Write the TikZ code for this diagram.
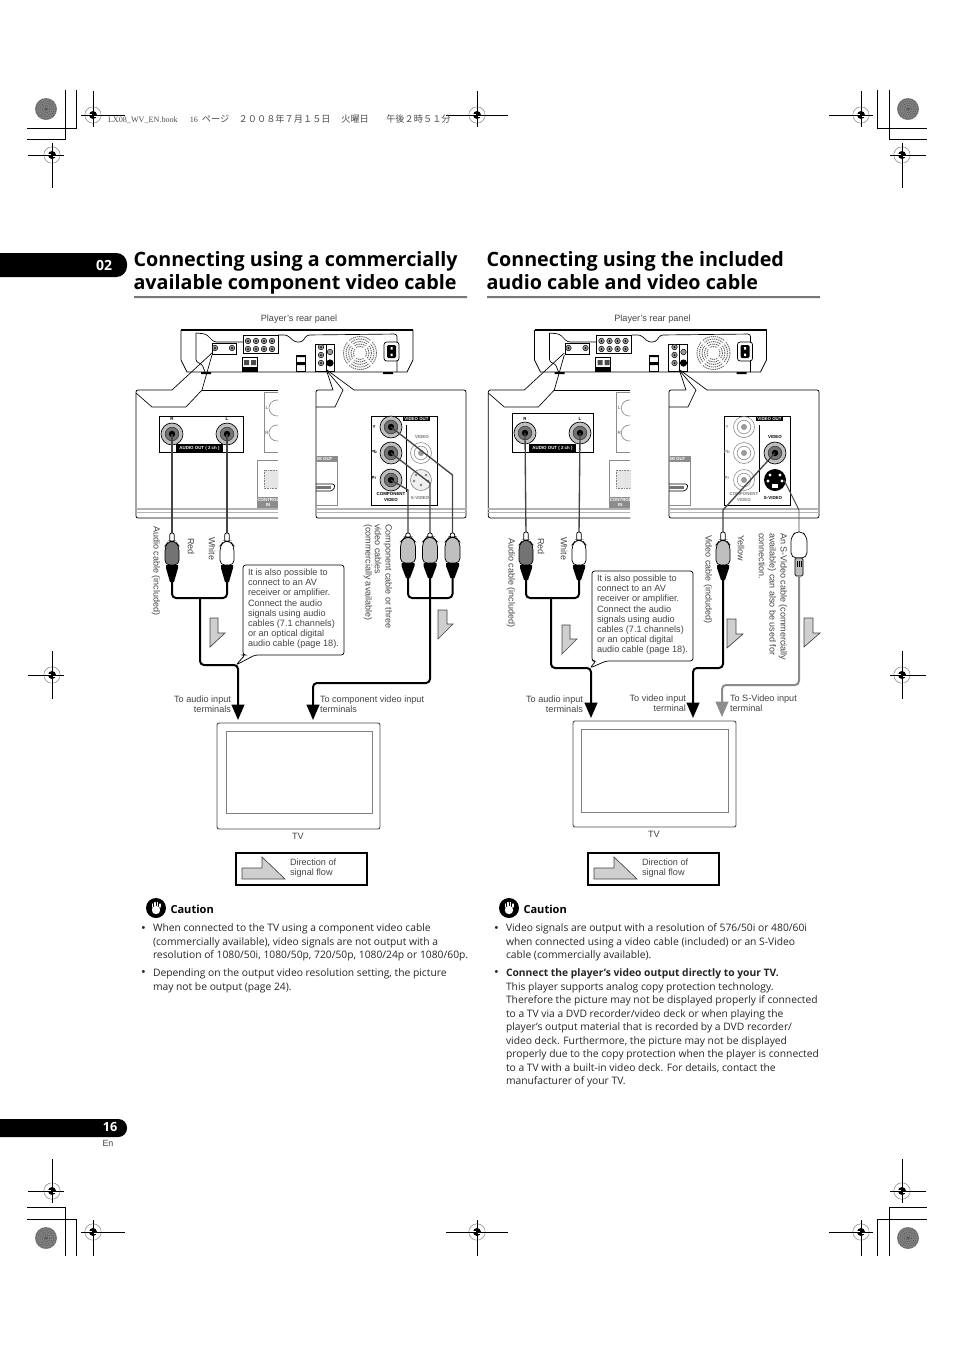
\documentclass[tikz,border=0pt]{standalone}
\usepackage{fontspec}
\usetikzlibrary{arrows.meta}
\setmainfont{Liberation Sans}
\newfontfamily\bodyf{Open Sans}
\newfontfamily\cjkf{Noto Sans CJK JP}
\newfontfamily\serf{Liberation Serif}
\definecolor{lab}{HTML}{444444}
\definecolor{flow}{HTML}{CFCFCF}
\definecolor{rule}{HTML}{777777}
\tikzset{
  txt/.style={inner sep=0pt,outer sep=0pt},
  lbl/.style={txt,text=lab,font=\fontsize{6.85pt}{7.6pt}\selectfont,align=left},
  lblr/.style={txt,text=lab,font=\fontsize{6.85pt}{7.6pt}\selectfont,align=right},
  vlbl/.style={txt,text=lab,rotate=-90,anchor=west,font=\fontsize{6.75pt}{7.6pt}\selectfont},
  body/.style={txt,anchor=north west,align=left,text=black!85,font=\bodyf\fontsize{7.72pt}{10.1pt}\selectfont},
  bull/.style={txt,anchor=center,text=black!85,font=\fontsize{8pt}{10pt}\selectfont},
  ttl/.style={txt,anchor=north west,align=left,font=\bodyf\bfseries\fontsize{14.8pt}{17.25pt}\selectfont},
  tiny/.style={txt,font=\bfseries\fontsize{3.3pt}{4.2pt}\selectfont,align=center},
  cable/.style={draw=black,line width=1.5pt,rounded corners=3pt},
  thinc/.style={draw=lab,line width=1pt},
  flowarr/.style={draw=lab,fill=flow,line width=.5pt},
  tip/.style={-{Triangle[length=11.5pt,width=9.5pt]}},
  panelline/.style={draw=black,line width=.55pt,rounded corners=1.5pt},
  grayline/.style={draw=black!45,line width=.5pt},
  cb/.style={draw=black,line width=.8pt},
}
\newcommand\regmark[6]{%
  \draw[black!50,line width=.35pt] (#1,#2) circle (8.2);
  \fill[black] (#1,#2) circle (4);
  \draw[black,line width=.65pt] (#3,#2) -- (#4,#2) (#1,#5) -- (#1,#6);
  \draw[white,line width=.3pt] (#1-4,#2-.9) -- (#1-1,#2-.9) (#1+1,#2+.9) -- (#1+4,#2+.9);
}
\newcommand\wheel[2]{%
  \fill[black!50] (#1,#2) circle (11);
  \foreach \r in {2,4,...,10}{\draw[black!70,line width=.3pt,dash pattern=on .8pt off .8pt] (#1,#2) circle (\r);}
  \fill[black!65] (#1,#2) circle (1.5);
}
\newcommand\jackon[2]{%
  \filldraw[fill=black!25,draw=black,line width=.5pt] (#1,#2) circle (11);
  \filldraw[fill=black!55,draw=black!80,line width=.4pt] (#1,#2) circle (6.8);
  \fill[black] (#1,#2) circle (3.2);
}
\newcommand\jackoff[2]{%
  \draw[black!45,line width=.45pt] (#1,#2) circle (10.5);
  \draw[black!45,line width=.45pt] (#1,#2) circle (6.8);
  \fill[black!40] (#1,#2) circle (3);
}
\newcommand\plug[7]{%
  \filldraw[fill=white,draw=black,line width=.55pt,rounded corners=1.5pt] (#1-2.3,#5+1) -- (#1-2.3,#2) -- (#1+2.3,#2) -- (#1+2.3,#5+1) -- cycle;
  \filldraw[fill=#3,draw=black,line width=.55pt,rounded corners=3.5pt] (#1-#4,#6) -- (#1-#4,#5+5) -- (#1-3,#5) -- (#1+3,#5) -- (#1+#4,#5+5) -- (#1+#4,#6) -- cycle;
  \fill[black] (#1-#4+1,#6) -- (#1+#4-1,#6) -- (#1+#4-1,#6+3) -- (#1+2,#7) -- (#1-2,#7) -- (#1-#4+1,#6+3) -- cycle;
}
\newcommand\rear[2]{%
\begin{scope}[shift={(#1,0)}]
  \draw[black,line width=.55pt] (181,330) -- (181,360) -- (187,372) -- (407,372) -- (413,360) -- (413,330);
  \draw[black,line width=1.3pt] (181,330) -- (413,330);
  \draw[black,line width=.5pt,rounded corners=2pt] (196,333) -- (196,362) -- (202,364) -- (205,372);
  \draw[black,line width=.5pt,rounded corners=2pt] (196,333) -- (206,334) -- (214,342) -- (243,342);
  \draw[black,line width=.5pt,rounded corners=2pt] (278,335) -- (287,335) -- (295,342) -- (302,342) -- (307,335) -- (397,334) -- (397,372);
  \fill[black] (201,372) rectangle (211,374) (383,372) rectangle (393,374);
  \draw[black,line width=.7pt,fill=white] (212,343) rectangle (236,354);
  \draw[black,line width=.7pt,fill=white] (243,335) rectangle (278,353);
  \foreach \jx in {215,232}{\filldraw[fill=black!40,draw=black,line width=.35pt] (\jx,348) circle (2.8); \fill[black] (\jx,348) circle (1);}
  \foreach \jx in {248,256,264,272}{\foreach \jy in {341,349}{\filldraw[fill=black!40,draw=black,line width=.35pt] (\jx,\jy) circle (2.8); \fill[black] (\jx,\jy) circle (1);}}
  \filldraw[fill=white,draw=black,line width=.7pt] (242,357) rectangle (257,371);
  \fill[black] (242,367) rectangle (257,371);
  \fill[black!70] (244,360) rectangle (249,365) (251,360) rectangle (256,365);
  \draw[black,line width=.7pt,fill=white] (296,355) rectangle (305,371);
  \fill[black] (296,355) rectangle (305,357) (296,362) rectangle (305,365);
  \draw[black,line width=.7pt,fill=white] (315,344) rectangle (326,371);
  \draw[black,line width=.7pt,fill=white] (326,344) rectangle (334,371);
  \foreach \jy in {347,355,363}{\filldraw[fill=black!40,draw=black,line width=.35pt] (321,\jy) circle (2.8); \fill[black] (321,\jy) circle (1);}
  \filldraw[fill=black!40,draw=black,line width=.35pt] (330,352) circle (2.8);
  \fill[black] (330,363) circle (3.6);
  \foreach \r in {6.5,9,11.5,14,16.5}{\draw[black!60,line width=.7pt,dash pattern=on 1pt off .6pt] (360,353) circle (\r);}
  \foreach \a in {45,135,225,315}{\draw[white,line width=1.4pt] (360,353) -- ++(\a:18);}
  \filldraw[fill=white,draw=black,line width=.55pt,rounded corners=2pt] (384,342) rectangle (399,361);
  \fill[black,rounded corners=1pt] (387,345) rectangle (396,358);
  \fill[white] (390.5,347) rectangle (392.5,349.5) (390.5,353.5) rectangle (392.5,356);
  \node[lbl] (#2rear) at (299,319) {Player’s rear panel};
\end{scope}}
\newcommand\lpanel[2]{%
\begin{scope}[shift={(#1,0)}]
  \draw[panelline] (172,390) -- (136,390) -- (136,518) -- (278,518);
  \draw[panelline] (202,390) -- (278,390);
  \draw[black,line width=.5pt] (136,393) -- (152,407) -- (186,407) -- (202,390) -- (212,355);
  \draw[black,line width=.5pt] (172,390) -- (212,353);
  \draw[black!30,line width=.8pt] (136,509) -- (278,509);
  \draw[black!30,line width=.5pt] (136,512) -- (278,512);
  \begin{scope}
    \clip (136,385) rectangle (278,520);
    \draw[grayline] (278,392) -- (264,392) -- (264,452) -- (278,452);
    \draw[grayline] (277,408) circle (8) (277,433) circle (8);
    \draw[grayline] (278,460) -- (257,460) -- (257,508);
    \fill[black!10] (264,470) rectangle (278,488);
    \draw[black!50,line width=.5pt,dash pattern=on .6pt off .6pt] (264,470) rectangle (278,488);
    \fill[black!45] (257,497) rectangle (278,508);
    \node[txt,text=white,font=\bfseries\fontsize{3.3pt}{4pt}\selectfont,anchor=west] (#2ctl) at (257.5,500) {CONTROL};
    \node[txt,text=white,font=\bfseries\fontsize{3.3pt}{4pt}\selectfont] (#2in) at (268,505) {IN};
  \end{scope}
  \node[txt,text=lab,font=\fontsize{3.4pt}{4pt}\selectfont] (#2l) at (267,408) {L};
  \node[txt,text=lab,font=\fontsize{3.4pt}{4pt}\selectfont] (#2r) at (267,433) {R};
\end{scope}}
\newcommand\rpanel[2]{%
\begin{scope}[shift={(#1,0)}]
  \draw[panelline] (333,390) -- (316,390) -- (316,518) -- (466,518) -- (466,390) -- (354,390);
  \draw[black,line width=.5pt] (316,407) -- (335,407) -- (343,390) -- (327,371);
  \draw[black,line width=.5pt] (333,390) -- (327,372);
  \draw[black,line width=.5pt] (354,390) -- (327,370);
  \draw[black!30,line width=.8pt] (316,509) -- (466,509);
  \draw[black!30,line width=.5pt] (316,512) -- (466,512);
  \draw[grayline] (316,456) -- (337,456) -- (337,505) -- (316,505);
  \fill[black!45] (316,456) rectangle (337,462);
  \node[txt,text=white,font=\bfseries\fontsize{3.3pt}{4pt}\selectfont,anchor=west] (#2hd) at (317,459) {MI OUT};
  \draw[black,line width=.5pt,rounded corners=1pt] (316,484) -- (334,484) -- (335,487) -- (332,491) -- (316,491);
  \fill[black!55] (316,486) rectangle (331,489);
  \draw[black,line width=.7pt] (371,416) rectangle (437,505);
  \fill[black] (403,416) rectangle (430,421);
  \node[txt,text=white,font=\bfseries\fontsize{3.3pt}{4pt}\selectfont] (#2vo) at (416.5,418.5) {VIDEO OUT};
\end{scope}}
\begin{document}
\begin{tikzpicture}[x=.75pt,y=-.75pt]
\useasboundingbox (0,0) rectangle (954,1347);
\fill[white] (0,0) rectangle (954,1347);
\draw[black,line width=.6pt] (65,90) -- (65,139) -- (27,139) (76,90) -- (76,128) -- (27,128);
\draw[black,line width=.6pt] (877,90) -- (877,128) -- (927,128) (889,90) -- (889,139) -- (927,139);
\draw[black,line width=.6pt] (65,1256) -- (65,1207) -- (27,1207) (76,1256) -- (76,1219) -- (27,1219);
\draw[black,line width=.6pt] (877,1256) -- (877,1219) -- (927,1219) (889,1256) -- (889,1207) -- (927,1207);
\wheel{46}{109}\wheel{908}{109}\wheel{46}{1238}\wheel{908}{1238}
\regmark{93}{115}{81}{125}{91}{127}
\regmark{477}{115}{446}{508}{91}{127}
\regmark{861}{115}{829}{873}{91}{127}
\regmark{52}{155}{28}{64}{143}{188}
\regmark{902}{155}{890}{926}{143}{188}
\regmark{52}{675}{28}{64}{651}{699}
\regmark{902}{675}{890}{926}{651}{699}
\regmark{52}{1191}{28}{64}{1159}{1203}
\regmark{902}{1191}{890}{926}{1159}{1203}
\regmark{93}{1232}{81}{125}{1220}{1256}
\regmark{477}{1232}{446}{508}{1220}{1256}
\regmark{861}{1232}{829}{873}{1220}{1256}
\node[txt,anchor=west,text=black!70,font=\fontsize{6.1pt}{7pt}\selectfont] (hdr) at (108,119) {{\serf LX08\_WV\_EN.book}\hspace{9pt}{\serf 16}\hspace{3pt}{\cjkf\fontsize{6.9pt}{7pt}\selectfont ページ}\hspace{7pt}{\cjkf\fontsize{6.9pt}{7pt}\selectfont ２００８年７月１５日}\hspace{8pt}{\cjkf\fontsize{6.9pt}{7pt}\selectfont 火曜日}\hspace{13pt}{\cjkf\fontsize{6.9pt}{7pt}\selectfont 午後２時５１分}};
\fill[black,rounded corners=8pt] (-20,253) rectangle (127,277);
\fill[black,rounded corners=6.5pt] (-20,1119) rectangle (127,1137);
\node[txt,text=white,font=\bodyf\bfseries\fontsize{10.5pt}{11pt}\selectfont] (tab02) at (104,265) {02};
\node[txt,text=white,font=\bodyf\bfseries\fontsize{9.5pt}{10pt}\selectfont] (tab16) at (110,1127) {16};
\node[txt,text=lab,font=\fontsize{6.7pt}{7pt}\selectfont] (en) at (108,1143) {En};
\node[ttl] (t1) at (133.5,251.5) {Connecting using a commercially\\available component video cable};
\node[ttl] (t2) at (486.5,251.5) {Connecting using the included\\audio cable and video cable};
\fill[rule] (134,296) rectangle (467,298) (487,296) rectangle (820,298);
% LEFT
\rear{0}{a}
\lpanel{0}{a}
\rpanel{0}{b}
\draw[black,line width=.7pt] (159,416) rectangle (243,452);
\fill[black] (176,444) rectangle (223,452);
\node[tiny,text=white] (aout) at (199.5,448) {AUDIO OUT ( 2 ch )};
\node[tiny] (aR) at (172,418.5) {R};
\node[tiny] (aL) at (227,418.5) {L};
\jackon{172}{434}\jackon{227}{434}
\coordinate (aRj) at (172,434); \coordinate (aLj) at (227,434);
\coordinate (aRp) at (172,535); \coordinate (aLp) at (227,535);
\draw[thinc] (aRj) -- (aRp); \draw[thinc] (aLj) -- (aLp);
\plug{172}{533}{black!55}{7}{541}{565}{582}
\plug{227}{533}{white}{7}{541}{565}{582}
\jackon{391}{427}\jackon{391}{453}\jackon{391}{480}
\jackoff{421}{453}
\draw[black!45,line width=.5pt,fill=black!6] (421,480) circle (10.5);
\foreach \p in {(416,475),(426,475),(414,481),(428,481),(421,485)}{\fill[black!50] \p circle (1.4);}
\draw[black,line width=.5pt] (406,425) -- (406,492);
\node[tiny] (cY) at (374,427) {Y};
\node[tiny] (cB) at (374,452) {P\textsc{b}};
\node[tiny] (cR) at (374,478) {P\textsc{r}};
\node[tiny] (cC) at (391,497) {COMPONENT\\VIDEO};
\node[tiny,text=black!55] (cV) at (422,437) {VIDEO};
\node[tiny,text=black!55] (cS) at (420,498) {S-VIDEO};
\coordinate (cYj) at (391,427); \coordinate (cBj) at (391,453); \coordinate (cRj) at (391,480);
\coordinate (cYb) at (452.5,475); \coordinate (cBb) at (430,483); \coordinate (cRb) at (408,490);
\coordinate (cYp) at (452.5,535); \coordinate (cBp) at (430,535); \coordinate (cRp) at (408,535);
\draw[thinc] (cYj) -- (cYb) -- (cYp); \draw[thinc] (cBj) -- (cBb) -- (cBp); \draw[thinc] (cRj) -- (cRb) -- (cRp);
\plug{408}{533}{black!25}{7.5}{537}{563}{578}
\plug{430}{533}{black!25}{7.5}{537}{563}{578}
\plug{452.5}{533}{black!25}{7.5}{537}{563}{578}
\coordinate (aRc) at (172,582); \coordinate (aLc) at (227,582);
\coordinate (aT1) at (200,598); \coordinate (aE) at (238,720);
\draw[cable] (aRc) -- (172,598) -- (227,598) -- (aLc);
\draw[cable,tip] (aT1) -- (200,665) -- (238,665) -- (aE);
\coordinate (cRc) at (408,578); \coordinate (cYc) at (452.5,578); \coordinate (cBc) at (430,578); \coordinate (cE) at (313,720);
\draw[cable] (cRc) -- (408,598) -- (452.5,598) -- (cYc);
\draw[cable,tip] (cBc) -- (430,683) -- (313,683) -- (cE);
\draw[flowarr] (210,618) -- (218,618) -- (218,633) -- (225,633) -- (210,647) -- cycle;
\draw[flowarr] (438,610) -- (447,610) -- (447,624) -- (453,624) -- (438,639) -- cycle;
\node[vlbl] (v1) at (156,526) {Audio cable (included)};
\node[vlbl] (v2) at (191,538) {Red};
\node[vlbl] (v3) at (212,537) {White};
\node[vlbl] (v4) at (388,524) {Component cable or three};
\node[vlbl] (v5) at (378,524) {video cables};
\node[vlbl] (v6) at (368,524) {(commercially available)};
\draw[draw=black,fill=white,line width=.55pt,rounded corners=2pt] (243,565) -- (344,565) -- (344,655) -- (255,655) -- (236,665) -- (245,655) -- (243,655) -- cycle;
\node[lbl,anchor=north west] (c1) at (248,569) {It is also possible to\\connect to an AV\\receiver or amplifier.\\Connect the audio\\signals using audio\\cables (7.1 channels)\\or an optical digital\\audio cable (page 18).};
\node[lblr,anchor=north east] (l1) at (231,695.5) {To audio input\\terminals};
\node[lbl,anchor=north west] (l2) at (320,695.5) {To component video input\\terminals};
\draw[black!70,line width=.7pt,rounded corners=1.5pt] (217,723) rectangle (380,829);
\draw[black!50,line width=.5pt] (226,731) rectangle (372,813);
\node[lbl] (tv1) at (298,836) {TV};
\draw[cb] (236,853) rectangle (367,885);
\draw[flowarr] (242,868) -- (262,868) -- (262,857) -- (285,879) -- (242,879) -- cycle;
\node[lbl,anchor=north west] (d1) at (290,858.5) {Direction of\\signal flow};
\fill[black] (156,908) circle (10);
\draw[white,line width=1pt,line cap=round] (152.5,907) -- (152.5,904) (155,906) -- (155,902.5) (157.5,906) -- (157.5,902.5) (160,907) -- (160,904);
\fill[white] (156,910) circle (4.2);
\node[txt,anchor=west,font=\bodyf\bfseries\fontsize{8.3pt}{10pt}\selectfont] (cau1) at (170.5,909) {Caution};
\node[bull] (b1) at (143.5,928.5) {•};
\node[body] (p1) at (153,924) {When connected to the TV using a component video cable\\(commercially available), video signals are not output with a\\resolution of 1080/50i, 1080/50p, 720/50p, 1080/24p or 1080/60p.};
\node[bull] (b2) at (143.5,973) {•};
\node[body] (p2) at (153,969) {Depending on the output video resolution setting, the picture\\may not be output (page 24).};
% RIGHT
\rear{353.5}{c}
\lpanel{352.3}{c}
\rpanel{353}{d}
\draw[black,line width=.7pt] (512,413) rectangle (593,452);
\fill[black] (529,444) rectangle (576,452);
\node[tiny,text=white] (xout) at (552.5,448) {AUDIO OUT ( 2 ch )};
\node[tiny] (xR) at (525,418.5) {R};
\node[tiny] (xL) at (580,418.5) {L};
\jackon{525}{433}\jackon{580}{433}
\coordinate (xRj) at (525,433); \coordinate (xLj) at (580,433);
\coordinate (xRp) at (526,535); \coordinate (xLp) at (579,535);
\draw[thinc] (xRj) -- (xRp); \draw[thinc] (xLj) -- (xLp);
\plug{526}{532}{black!55}{7}{540}{565}{580}
\plug{579}{532}{white}{7}{540}{565}{580}
\jackoff{744}{427}\jackoff{744}{453}\jackoff{744}{480}
\jackon{775}{453}
\fill[black] (775,480) circle (11);
\foreach \p in {(770,475),(780,475),(768,481),(782,481)}{\fill[white] \p circle (1.6);}
\fill[white] (772,484) rectangle (778,488);
\draw[black,line width=.5pt] (759.5,425) -- (759.5,492);
\node[tiny,text=black!50] (yY) at (727,427) {Y};
\node[tiny,text=black!50] (yB) at (727,452) {P\textsc{b}};
\node[tiny,text=black!50] (yR) at (727,478) {P\textsc{r}};
\node[tiny,text=black!50] (yC) at (744,497) {COMPONENT\\VIDEO};
\node[tiny] (yV) at (775,437) {VIDEO};
\node[tiny] (yS) at (773,498) {S-VIDEO};
\coordinate (yVj) at (775,453); \coordinate (yVb) at (723,510); \coordinate (yVp) at (723,535);
\coordinate (ySj) at (784,480); \coordinate (ySb) at (799,510); \coordinate (ySp) at (799,540);
\draw[thinc] (yVj) -- (yVb) -- (yVp);
\draw[black!70,line width=.7pt] (ySj) -- (ySb) -- (ySp);
\plug{723}{532}{black!25}{7}{540}{565}{580}
\filldraw[fill=white,draw=black,line width=.55pt,rounded corners=4pt] (791,558) -- (791,536) -- (799,530) -- (807,536) -- (807,558) -- cycle;
\filldraw[fill=black!25,draw=black,line width=.5pt,rounded corners=1pt] (795,558) rectangle (803,576);
\draw[black,line width=.5pt] (797,561) -- (797,567) (799,561) -- (799,567) (801,561) -- (801,567);
\coordinate (xRc) at (526,580); \coordinate (xLc) at (579,580); \coordinate (xT) at (551,598); \coordinate (xE) at (591,718);
\draw[cable] (xRc) -- (526,598) -- (579,598) -- (xLc);
\draw[cable,tip] (xT) -- (551,668) -- (591,668) -- (xE);
\coordinate (yVc) at (723,580); \coordinate (yE) at (693,718);
\draw[cable,tip] (yVc) -- (723,668) -- (693,668) -- (yE);
\coordinate (ySc) at (799,576); \coordinate (ySE) at (722,717);
\draw[cable,draw=black!45,-{Triangle[length=11.5pt,width=9.5pt,fill=black!45]}] (ySc) -- (799,685) -- (722,685) -- (ySE);
\draw[flowarr] (562,625) -- (570,625) -- (570,639) -- (577,639) -- (562,654) -- cycle;
\draw[flowarr] (727,619) -- (736,619) -- (736,634) -- (743,634) -- (727,648) -- cycle;
\draw[flowarr] (804,618) -- (813,618) -- (813,633) -- (820,633) -- (804,647) -- cycle;
\node[vlbl] (w1) at (511,538) {Audio cable (included)};
\node[vlbl] (w2) at (541,538) {Red};
\node[vlbl] (w3) at (564,537) {White};
\node[vlbl] (w4) at (708,535) {Video cable (included)};
\node[vlbl] (w5) at (741,535) {Yellow};
\node[vlbl] (w6) at (783,533) {An S-Video cable (commercially};
\node[vlbl] (w7) at (772,533) {available) can also be used for};
\node[vlbl] (w8) at (762,533) {connection.};
\draw[draw=black,fill=white,line width=.55pt,rounded corners=2pt] (592,571) -- (693,571) -- (693,661) -- (606,661) -- (590,668) -- (596,661) -- (592,661) -- cycle;
\node[lbl,anchor=north west] (c2) at (597,575) {It is also possible to\\connect to an AV\\receiver or amplifier.\\Connect the audio\\signals using audio\\cables (7.1 channels)\\or an optical digital\\audio cable (page 18).};
\node[lblr,anchor=north east] (m1) at (583,695.5) {To audio input\\terminals};
\node[lblr,anchor=north east] (m2) at (686,694.5) {To video input\\terminal};
\node[lbl,anchor=north west] (m3) at (730,694.5) {To S-Video input\\terminal};
\draw[black!70,line width=.7pt,rounded corners=1.5pt] (573,721) rectangle (736,827);
\draw[black!50,line width=.5pt] (581,729) rectangle (728,812);
\node[lbl] (tv2) at (654,834) {TV};
\draw[cb] (588,853) rectangle (719,885);
\draw[flowarr] (594,868) -- (614,868) -- (614,857) -- (637,879) -- (594,879) -- cycle;
\node[lbl,anchor=north west] (d2) at (642,858.5) {Direction of\\signal flow};
\fill[black] (509,908) circle (10);
\draw[white,line width=1pt,line cap=round] (505.5,907) -- (505.5,904) (508,906) -- (508,902.5) (510.5,906) -- (510.5,902.5) (513,907) -- (513,904);
\fill[white] (509,910) circle (4.2);
\node[txt,anchor=west,font=\bodyf\bfseries\fontsize{8.3pt}{10pt}\selectfont] (cau2) at (523.5,909) {Caution};
\node[bull] (b3) at (496.5,928.5) {•};
\node[body] (p3) at (506,924) {Video signals are output with a resolution of 576/50i or 480/60i\\when connected using a video cable (included) or an S-Video\\cable (commercially available).};
\node[bull] (b4) at (496.5,973) {•};
\node[body] (p4) at (506,969) {\textbf{Connect the player’s video output directly to your TV.}\\This player supports analog copy protection technology.\\Therefore the picture may not be displayed properly if connected\\to a TV via a DVD recorder/video deck or when playing the\\player’s output material that is recorded by a DVD recorder/\\video deck. Furthermore, the picture may not be displayed\\properly due to the copy protection when the player is connected\\to a TV with a built-in video deck. For details, contact the\\manufacturer of your TV.};
\end{tikzpicture}
\end{document}
